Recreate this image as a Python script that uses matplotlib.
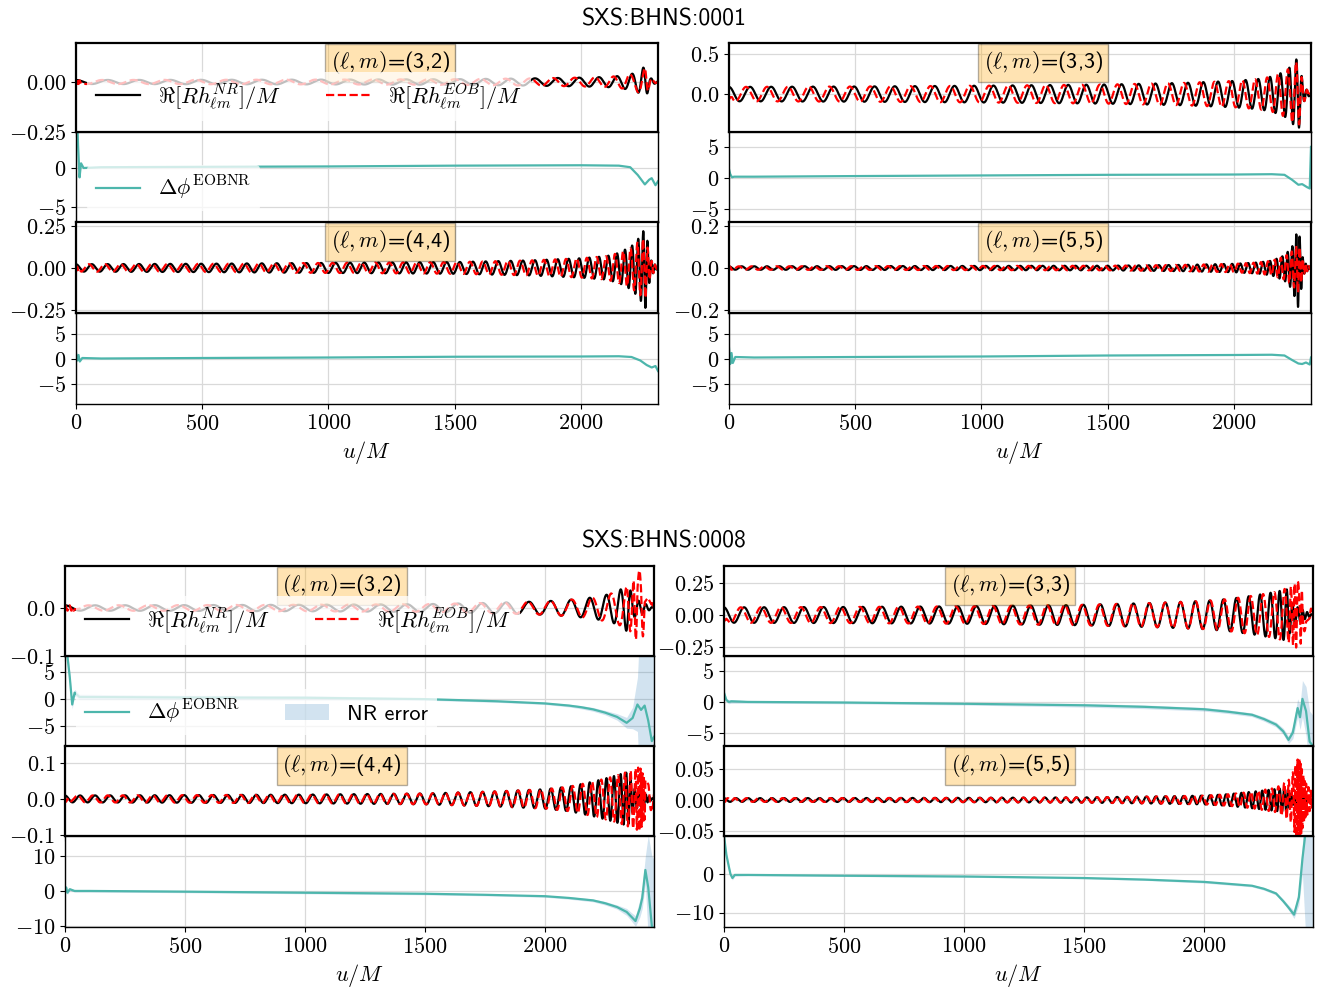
import numpy as np
import matplotlib
matplotlib.use('Agg')
import matplotlib.pyplot as plt
from matplotlib.ticker import MultipleLocator
from matplotlib.lines import Line2D
from matplotlib.patches import Patch

plt.rcParams['font.family'] = 'serif'
plt.rcParams['font.serif'] = ['cmr10']
plt.rcParams['mathtext.fontset'] = 'cm'
plt.rcParams['axes.formatter.use_mathtext'] = True
plt.rcParams['font.size'] = 16

# ---------------- data ----------------
titles = ['SXS:BHNS:0001', 'SXS:BHNS:0008']
mode_labels = ['(3,2)', '(3,3)', '(4,4)', '(5,5)']
m_values = [2, 3, 4, 5]
t_end = [2305, 2454]

# BHNS:0001 orbital frequency nodes
t_om_g1 = [0, 500, 1000, 1500, 1800, 2000, 2100, 2150, 2200, 2230, 2255, 2305]
om_g1 = [0.0249, 0.0258, 0.0272, 0.0300, 0.0330, 0.0385, 0.0430, 0.0480, 0.0580, 0.0720, 0.0950, 0.1200]

# BHNS:0001 amplitude nodes (NR and EOB)
t_amp_g1 = [0, 500, 1000, 1500, 1800, 2000, 2100, 2150, 2200, 2230, 2255, 2275, 2305]
amp_g1_32 = [0.010, 0.011, 0.012, 0.014, 0.018, 0.022, 0.025, 0.030, 0.040, 0.055, 0.080, 0.020, 0.0]
amp_g1_33 = [0.090, 0.095, 0.105, 0.120, 0.140, 0.165, 0.190, 0.220, 0.280, 0.360, 0.470, 0.100, 0.0]
amp_g1_44 = [0.022, 0.025, 0.030, 0.035, 0.045, 0.058, 0.070, 0.090, 0.130, 0.180, 0.240, 0.050, 0.0]
amp_g1_55 = [0.008, 0.009, 0.010, 0.011, 0.015, 0.020, 0.027, 0.035, 0.060, 0.100, 0.190, 0.030, 0.0]
eob_g1_32 = [0.010, 0.011, 0.012, 0.014, 0.018, 0.022, 0.025, 0.030, 0.040, 0.052, 0.070, 0.020, 0.0]
eob_g1_33 = [0.090, 0.095, 0.105, 0.120, 0.140, 0.165, 0.190, 0.220, 0.280, 0.350, 0.430, 0.100, 0.0]
eob_g1_44 = [0.022, 0.025, 0.030, 0.035, 0.045, 0.058, 0.070, 0.090, 0.120, 0.160, 0.180, 0.050, 0.0]
eob_g1_55 = [0.008, 0.009, 0.010, 0.011, 0.015, 0.020, 0.027, 0.035, 0.055, 0.080, 0.120, 0.030, 0.0]

# BHNS:0001 phase differences
t_dp_g1_32 = [0, 8, 14, 20, 30, 100, 500, 1000, 1500, 2000, 2150, 2195, 2225, 2253, 2270, 2280, 2295, 2305]
dp_g1_32 = [12.0, 3.0, -1.2, 0.6, 0.0, 0.1, 0.15, 0.2, 0.3, 0.35, 0.3, 0.1, -0.9, -2.1, -1.5, -1.3, -2.2, -1.7]
t_dp_g1_33 = [0, 5, 12, 20, 100, 500, 1000, 1500, 2000, 2150, 2200, 2230, 2255, 2270, 2290, 2300, 2305]
dp_g1_33 = [1.4, 0.6, 0.1, 0.2, 0.2, 0.3, 0.4, 0.5, 0.55, 0.6, 0.5, -0.3, -1.1, -1.0, -1.5, -1.7, 5.0]
t_dp_g1_44 = [0, 5, 10, 15, 25, 100, 500, 1000, 1500, 2000, 2150, 2200, 2235, 2260, 2280, 2295, 2305]
dp_g1_44 = [1.2, -0.3, 0.8, -0.5, 0.2, 0.1, 0.2, 0.3, 0.45, 0.5, 0.55, 0.4, -0.3, -1.2, -1.7, -1.4, -2.4]
t_dp_g1_55 = [0, 5, 10, 15, 25, 100, 500, 1000, 1500, 2000, 2150, 2200, 2230, 2255, 2270, 2285, 2300, 2305]
dp_g1_55 = [2.2, -1.0, 1.2, -0.8, 0.4, 0.3, 0.4, 0.5, 0.7, 0.8, 0.85, 0.7, -0.2, -0.9, -1.0, -0.7, -1.1, 0.3]

# BHNS:0008 orbital frequency nodes
t_om_g2 = [0, 500, 1000, 1500, 1800, 2000, 2150, 2250, 2300, 2330, 2345, 2454]
om_g2 = [0.0249, 0.0257, 0.0270, 0.0292, 0.0318, 0.0350, 0.0400, 0.0470, 0.0550, 0.0680, 0.0850, 0.1200]

# BHNS:0008 amplitude nodes
t_amp_g2 = [0, 500, 1000, 1500, 1800, 2000, 2100, 2200, 2280, 2320, 2345, 2370, 2454]
amp_g2_32 = [0.0055, 0.006, 0.0068, 0.008, 0.011, 0.014, 0.017, 0.022, 0.030, 0.040, 0.050, 0.020, 0.0]
amp_g2_33 = [0.060, 0.063, 0.068, 0.080, 0.095, 0.110, 0.125, 0.150, 0.175, 0.190, 0.200, 0.080, 0.0]
amp_g2_44 = [0.0095, 0.0105, 0.012, 0.015, 0.021, 0.027, 0.034, 0.048, 0.062, 0.070, 0.074, 0.030, 0.0]
amp_g2_55 = [0.0030, 0.0032, 0.0035, 0.0043, 0.0058, 0.0072, 0.0095, 0.0135, 0.0170, 0.0190, 0.0190, 0.0080, 0.0]
t_eob_g2 = [0, 500, 1000, 1500, 1800, 2000, 2100, 2200, 2300, 2360, 2395, 2420, 2454]
eob_g2_32 = [0.0055, 0.006, 0.0068, 0.008, 0.011, 0.014, 0.017, 0.022, 0.033, 0.050, 0.080, 0.040, 0.010]
eob_g2_33 = [0.060, 0.063, 0.068, 0.080, 0.095, 0.110, 0.125, 0.150, 0.180, 0.220, 0.270, 0.120, 0.030]
eob_g2_44 = [0.0095, 0.0105, 0.012, 0.015, 0.021, 0.027, 0.034, 0.048, 0.065, 0.080, 0.089, 0.050, 0.020]
eob_g2_55 = [0.0030, 0.0032, 0.0035, 0.0043, 0.0058, 0.0072, 0.0095, 0.0135, 0.0200, 0.0350, 0.0720, 0.0300, 0.0100]

# BHNS:0008 phase differences and NR error
t_dp_g2_32 = [0, 10, 20, 25, 30, 40, 60, 500, 1000, 1500, 1800, 2000, 2100, 2150, 2200, 2250, 2300, 2340, 2365, 2385, 2400, 2415, 2430, 2445, 2454]
dp_g2_32 = [12.0, 8.0, 4.0, 1.5, -1.0, 1.2, 0.4, 0.3, 0.25, 0.0, -0.4, -0.8, -1.2, -1.5, -1.9, -2.5, -3.3, -4.4, -3.5, -1.0, -2.0, -1.2, -4.0, -7.8, -7.0]
err_g2_32 = [1.0, 1.0, 1.0, 0.8, 0.8, 0.6, 0.5, 0.4, 0.4, 0.2, 0.2, 0.2, 0.25, 0.3, 0.35, 0.4, 0.6, 1.0, 2.0, 5.0, 20, 20, 20, 20, 20]
t_dp_g2_33 = [0, 10, 20, 30, 100, 500, 1000, 1500, 1750, 2000, 2100, 2200, 2250, 2300, 2330, 2352, 2370, 2390, 2400, 2410, 2425, 2440, 2454]
dp_g2_33 = [1.5, 0.3, 0.0, 0.1, 0.0, -0.1, -0.3, -0.55, -0.8, -1.2, -1.6, -2.1, -2.8, -3.7, -4.8, -6.2, -5.0, -1.0, -2.5, 0.5, -1.5, -6.5, -7.2]
err_g2_33 = [0.3, 0.3, 0.3, 0.3, 0.2, 0.2, 0.2, 0.3, 0.3, 0.3, 0.3, 0.3, 0.35, 0.4, 0.5, 0.6, 1.0, 1.5, 2.0, 3.0, 4.0, 5.0, 5.0]
t_dp_g2_44 = [0, 5, 10, 20, 40, 100, 500, 1000, 1500, 1750, 2000, 2100, 2200, 2250, 2300, 2340, 2360, 2377, 2395, 2405, 2418, 2430, 2445, 2454]
dp_g2_44 = [0.5, 1.0, -0.5, 0.5, 0.0, 0.0, -0.2, -0.5, -0.8, -1.1, -1.5, -2.0, -2.7, -3.5, -4.6, -6.0, -7.4, -8.6, -5.0, -2.0, 6.0, 1.0, -10.0, -11.0]
err_g2_44 = [0.5, 0.5, 0.5, 0.4, 0.3, 0.3, 0.3, 0.3, 0.3, 0.3, 0.3, 0.35, 0.4, 0.5, 0.6, 1.0, 1.2, 1.5, 2.5, 3.0, 4.0, 15, 20, 20]
t_dp_g2_55 = [0, 10, 20, 27, 35, 45, 100, 500, 1000, 1500, 1750, 2000, 2100, 2200, 2250, 2300, 2330, 2350, 2375, 2395, 2410, 2425, 2454]
dp_g2_55 = [10.0, 5.0, 2.0, 0.0, -1.0, -0.2, -0.2, -0.4, -0.6, -1.0, -1.4, -2.0, -2.5, -3.0, -3.8, -5.0, -7.0, -8.5, -10.5, -6.0, 4.0, 12.0, 14.0]
err_g2_55 = [0.5, 0.5, 0.5, 0.5, 0.5, 0.3, 0.2, 0.2, 0.2, 0.2, 0.2, 0.3, 0.3, 0.3, 0.35, 0.4, 0.5, 0.6, 1.0, 2.0, 4.0, 30, 30]

EOB_SHIFT = 1.0

groups = [
    dict(om=(t_om_g1, om_g1), t_nr=t_amp_g1, t_eob=t_amp_g1,
         nr=[amp_g1_32, amp_g1_33, amp_g1_44, amp_g1_55],
         eob=[eob_g1_32, eob_g1_33, eob_g1_44, eob_g1_55],
         t_dp=[t_dp_g1_32, t_dp_g1_33, t_dp_g1_44, t_dp_g1_55],
         dp=[dp_g1_32, dp_g1_33, dp_g1_44, dp_g1_55], err=None),
    dict(om=(t_om_g2, om_g2), t_nr=t_amp_g2, t_eob=t_eob_g2,
         nr=[amp_g2_32, amp_g2_33, amp_g2_44, amp_g2_55],
         eob=[eob_g2_32, eob_g2_33, eob_g2_44, eob_g2_55],
         t_dp=[t_dp_g2_32, t_dp_g2_33, t_dp_g2_44, t_dp_g2_55],
         dp=[dp_g2_32, dp_g2_33, dp_g2_44, dp_g2_55],
         err=[err_g2_32, err_g2_33, err_g2_44, err_g2_55]),
]

# ---------------- layout (pixels) ----------------
W, H = 1328, 990
layout = [
    dict(cols=[(76, 658), (729, 1311)], rows=[43, 132, 222, 313, 404], title_y=19,
         wave_ylim=[(-0.25, 0.195), (-0.475, 0.64), (-0.27, 0.275), (-0.214, 0.219)],
         wave_step=[0.25, 0.5, 0.25, 0.2],
         dp_ylim=[(-6.9, 4.6), (-7.1, 7.4), (-9, 9.2), (-9, 9.2)],
         dp_step=[5, 5, 5, 5], box_x=[0.54, 0.54]),
    dict(cols=[(65, 654), (724, 1313)], rows=[566, 656, 746, 836, 927], title_y=542,
         wave_ylim=[(-0.1, 0.0875), (-0.32, 0.383), (-0.103, 0.147), (-0.059, 0.0885)],
         wave_step=[0.1, 0.25, 0.1, 0.05],
         dp_ylim=[(-8.7, 8.0), (-7.2, 7.5), (-10.3, 15.7), (-13.7, 9.9)],
         dp_step=[5, 5, 10, 10], box_x=[0.47, 0.486]),
]

teal = '#4DB6AC'
fig = plt.figure(figsize=(W / 100, H / 100), dpi=100)


def add_ax(x0, x1, y0, y1):
    return fig.add_axes([x0 / W, 1 - y1 / H, (x1 - x0) / W, (y1 - y0) / H])


def style(ax, xmax, ylim, step, lw):
    ax.set_xlim(0, xmax)
    ax.set_ylim(*ylim)
    ax.xaxis.set_major_locator(MultipleLocator(500))
    ax.yaxis.set_major_locator(MultipleLocator(step))
    ax.grid(True, color='0.85', lw=0.9)
    ax.set_axisbelow(True)
    for s in ax.spines.values():
        s.set_linewidth(lw)
    ax.tick_params(labelsize=16)


def wave(t, om_nodes, m, t_a, a, t_dp=None, dp=None):
    phase = m * np.cumsum(np.interp(t, om_nodes[0], om_nodes[1])) * (t[1] - t[0])
    if t_dp is not None:
        phase = phase + np.interp(t, t_dp, dp) + EOB_SHIFT
    return np.interp(t, t_a, a) * np.cos(phase)


for g, (grp, lay) in enumerate(zip(groups, layout)):
    tmax = t_end[g]
    t = np.arange(0, tmax, 0.25)
    fig.text(0.5, 1 - lay['title_y'] / H, titles[g], ha='center', va='center',
             fontfamily='cmss10', fontsize=17)
    r = lay['rows']
    for c, (x0, x1) in enumerate(lay['cols']):
        for p in range(2):
            k = c + 2 * p
            m = m_values[k]
            axw = add_ax(x0, x1, r[2 * p], r[2 * p + 1])
            axp = add_ax(x0, x1, r[2 * p + 1], r[2 * p + 2])

            h_nr = wave(t, grp['om'], m, grp['t_nr'], grp['nr'][k])
            h_eob = wave(t, grp['om'], m, grp['t_eob'], grp['eob'][k], grp['t_dp'][k], grp['dp'][k])
            axw.plot(t, h_nr, color='k', lw=1.6, label=r'$\Re[Rh^{NR}_{\ell m}]/M$')
            axw.plot(t, h_eob, color='red', ls='--', lw=1.6, label=r'$\Re[Rh^{EOB}_{\ell m}]/M$')
            style(axw, tmax, lay['wave_ylim'][k], lay['wave_step'][k], 1.6)
            axw.tick_params(labelbottom=False)
            axw.text(lay['box_x'][c], 0.93, r'$(\ell,m)$=' + mode_labels[k], transform=axw.transAxes,
                     ha='center', va='top', fontfamily='cmss10', fontsize=16,
                     bbox=dict(facecolor='orange', alpha=0.3, edgecolor='k'))

            tdp = np.array(grp['t_dp'][k])
            dp = np.array(grp['dp'][k])
            if grp['err'] is not None:
                err = np.array(grp['err'][k])
                axp.fill_between(tdp, dp - err, dp + err, color='C0', alpha=0.2, lw=0)
            axp.plot(tdp, dp, color=teal, lw=1.6)
            style(axp, tmax, lay['dp_ylim'][k], lay['dp_step'][k], 1.0)

            if p == 1:
                axp.set_xlabel(r'$u/M$', fontsize=16)
            else:
                axp.tick_params(labelbottom=False)

            if k == 0:
                axw.legend(ncol=2, loc='lower left', fontsize=16, framealpha=0.75,
                           edgecolor='none')
                handles = [Line2D([], [], color=teal, lw=1.6, label=r'$\Delta\phi^{\rm EOBNR}$')]
                if grp['err'] is not None:
                    handles.append(Patch(facecolor='C0', alpha=0.2, label='NR error'))
                axp.legend(handles=handles, ncol=2, loc='lower left', framealpha=0.75,
                           edgecolor='none', prop={'family': 'cmss10', 'size': 16})

fig.savefig('out.png', dpi=100)
